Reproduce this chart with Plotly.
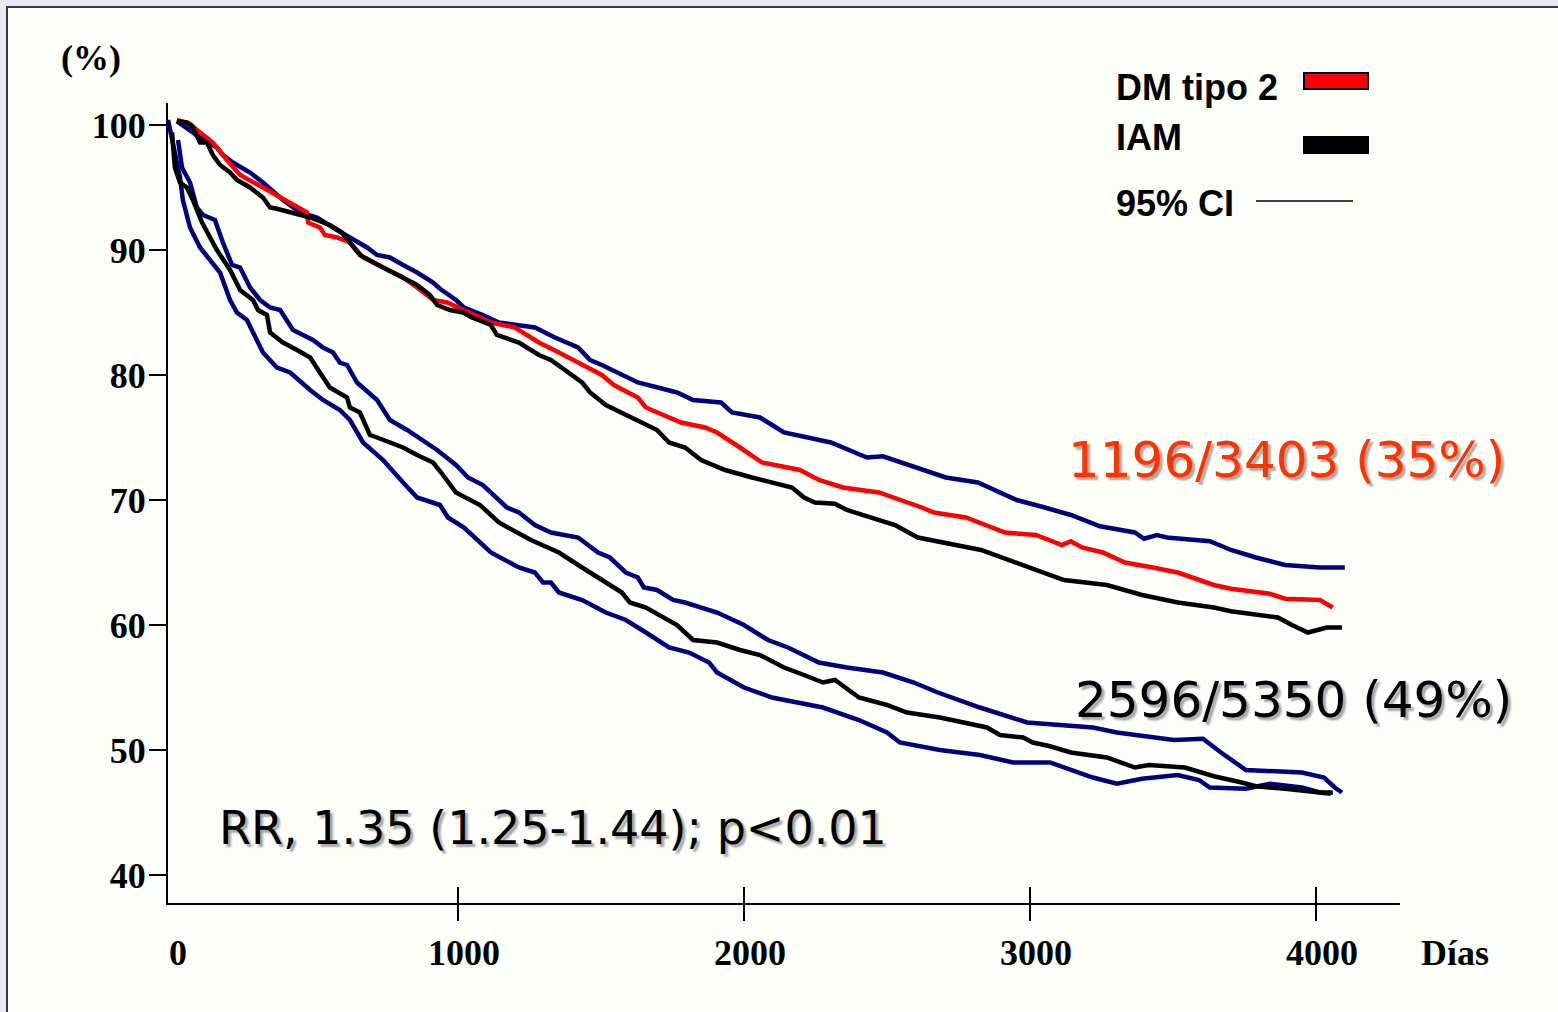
import plotly.graph_objects as go

# ---------------- data (days, % survival) ----------------
dm_x = [17, 63, 87, 143, 192, 238, 318, 413, 472, 476, 517, 535, 577, 622, 668, 738, 808, 857, 913, 962,
        1042, 1115, 1199, 1283, 1353, 1434, 1503, 1545, 1629, 1657, 1738, 1780, 1864, 1906, 1986, 2063,
        2196, 2262, 2346, 2472, 2622, 2664, 2776, 2843, 2913, 3021, 3112, 3143, 3182, 3255, 3332, 3430,
        3517, 3643, 3703, 3839, 3892, 4014, 4059]
dm_y = [100.4, 100.1, 99.6, 98.6, 97.2, 96.0, 95.0, 93.8, 93.0, 92.2, 91.8, 91.2, 91.0, 90.6, 89.4, 88.6,
        87.8, 87.0, 86.0, 85.8, 85.0, 84.2, 83.8, 82.6, 81.8, 80.8, 80.0, 79.2, 78.2, 77.4, 76.6, 76.2,
        75.8, 75.4, 74.2, 73.0, 72.4, 71.6, 71.0, 70.6, 69.4, 69.0, 68.6, 68.0, 67.4, 67.2, 66.4, 66.7,
        66.2, 65.8, 65.0, 64.6, 64.2, 63.2, 62.9, 62.5, 62.1, 62.0, 61.4]

dm_up_x = [17, 73, 98, 157, 178, 213, 273, 318, 388, 448, 507, 577, 622, 682, 717, 762, 808, 857, 913, 937,
           993, 1021, 1087, 1143, 1269, 1339, 1420, 1462, 1503, 1629, 1766, 1822, 1920, 1958, 2056, 2140,
           2304, 2430, 2486, 2580, 2706, 2818, 2954, 3052, 3143, 3245, 3367, 3399, 3444, 3479, 3629, 3703,
           3790, 3892, 4014, 4101]
dm_up_y = [100.3, 99.4, 99.0, 98.2, 97.6, 97.0, 96.2, 95.4, 94.0, 93.0, 92.6, 91.6, 91.0, 90.2, 89.6, 89.4,
           88.8, 88.2, 87.4, 86.9, 86.0, 85.4, 84.8, 84.2, 83.8, 83.0, 82.2, 81.2, 80.8, 79.4, 78.6, 78.0,
           77.8, 77.0, 76.6, 75.4, 74.6, 73.4, 73.5, 72.8, 71.8, 71.4, 70.0, 69.4, 68.8, 67.9, 67.4, 66.9,
           67.2, 67.0, 66.7, 66.0, 65.4, 64.8, 64.6, 64.6]

dm_lo_x = [17, 52, 73, 80, 98, 122, 143, 168, 203, 227, 273, 318, 343, 367, 423, 483, 552, 594, 622, 657,
           738, 808, 857, 902, 927, 972, 1017, 1049, 1115, 1136, 1213, 1283, 1325, 1434, 1462, 1517, 1629,
           1696, 1738, 1794, 1850, 1934, 2028, 2168, 2210, 2248, 2318, 2360, 2528, 2608, 2829, 2899, 3038,
           3119, 3269, 3392, 3517, 3643, 3703, 3867, 3916, 3972, 4038, 4091]
dm_lo_y = [100.3, 100.2, 99.8, 99.4, 98.6, 98.6, 97.6, 96.8, 96.2, 95.6, 95.0, 94.2, 93.4, 93.3, 93.0, 92.6,
           92.0, 91.4, 90.6, 89.6, 88.6, 87.8, 87.2, 86.4, 85.6, 85.2, 85.0, 84.6, 84.0, 83.2, 82.6, 81.6,
           81.2, 79.4, 78.6, 77.6, 76.4, 75.6, 74.6, 74.2, 73.2, 72.4, 71.8, 71.0, 70.2, 69.8, 69.7, 69.2,
           68.0, 67.0, 66.0, 65.4, 64.2, 63.6, 63.2, 62.4, 61.8, 61.4, 61.1, 60.6, 60.0, 59.4, 59.8, 59.8]

iam_x = [0, 10, 28, 52, 73, 105, 157, 203, 238, 283, 301, 332, 343, 388, 437, 483, 517, 552, 612, 622, 657,
         692, 717, 808, 857, 913, 941, 993, 1077, 1143, 1255, 1353, 1434, 1490, 1573, 1601, 1657, 1766, 1822,
         1906, 1986, 2056, 2140, 2210, 2276, 2318, 2402, 2500, 2570, 2685, 2850, 2895, 2976, 3010, 3070,
         3143, 3269, 3367, 3416, 3542, 3643, 3741, 3790, 3892, 4014, 4059]
iam_y = [99.4, 96.6, 95.4, 95.0, 94.0, 92.2, 90.0, 88.4, 86.8, 86.0, 85.2, 84.8, 83.4, 82.6, 82.0, 81.4,
         80.2, 79.0, 78.2, 77.4, 77.0, 75.2, 75.0, 74.2, 73.6, 73.0, 72.2, 70.6, 69.6, 68.2, 66.8, 65.8,
         64.6, 63.8, 62.6, 61.8, 61.4, 60.0, 58.8, 58.6, 58.0, 57.6, 56.6, 56.0, 55.4, 55.6, 54.2, 53.6,
         53.0, 52.6, 51.8, 51.2, 51.0, 50.6, 50.3, 49.8, 49.4, 48.6, 48.8, 48.6, 47.9, 47.4, 47.1, 46.9,
         46.6, 46.6]

iam_up_x = [21, 35, 63, 87, 108, 150, 178, 210, 238, 273, 308, 343, 378, 423, 493, 528, 563, 587, 612, 647,
            717, 762, 822, 878, 927, 993, 1035, 1087, 1171, 1213, 1269, 1325, 1420, 1490, 1531, 1587, 1629,
            1650, 1696, 1752, 1794, 1906, 2000, 2084, 2154, 2262, 2360, 2486, 2594, 2678, 2825, 2990, 3220,
            3304, 3503, 3605, 3668, 3755, 3951, 4028, 4066, 4091]
iam_up_y = [98.8, 96.6, 95.4, 93.4, 92.8, 92.4, 90.6, 88.8, 88.6, 87.0, 86.0, 85.4, 85.2, 83.6, 82.8, 82.2,
            81.8, 81.0, 80.8, 79.4, 78.0, 76.4, 75.6, 74.8, 74.0, 72.8, 71.8, 71.2, 69.4, 69.0, 68.0, 67.4,
            67.0, 65.8, 65.4, 64.2, 63.8, 63.0, 62.8, 62.0, 61.8, 61.0, 60.0, 58.8, 58.2, 57.0, 56.6, 56.2,
            55.4, 54.6, 53.4, 52.2, 51.8, 51.4, 50.8, 50.9, 49.8, 48.4, 48.2, 47.8, 47.0, 46.6]

iam_lo_x = [-14, 3, 28, 38, 63, 98, 133, 168, 203, 227, 262, 297, 318, 367, 413, 483, 528, 587, 622, 668,
            738, 808, 857, 937, 965, 1021, 1115, 1213, 1269, 1297, 1325, 1353, 1434, 1517, 1587, 1657, 1738,
            1808, 1878, 1906, 2000, 2098, 2276, 2402, 2500, 2545, 2685, 2825, 2941, 3070, 3220, 3304, 3392,
            3517, 3591, 3629, 3755, 3839, 3951, 4014, 4052]
iam_lo_y = [100.4, 98.6, 95.8, 94.0, 91.8, 90.2, 89.2, 88.2, 86.0, 85.0, 84.4, 82.8, 81.8, 80.6, 80.2, 78.8,
            78.0, 77.2, 76.4, 74.6, 73.2, 71.4, 70.2, 69.6, 68.6, 67.8, 65.8, 64.6, 64.2, 63.4, 63.4, 62.6,
            62.0, 61.0, 60.4, 59.4, 58.2, 57.8, 57.0, 56.2, 55.0, 54.2, 53.4, 52.4, 51.4, 50.6, 50.0, 49.6,
            49.0, 49.0, 47.8, 47.3, 47.7, 48.0, 47.6, 47.0, 46.9, 47.3, 47.0, 46.6, 46.5]

y_ticks = [40, 50, 60, 70, 80, 90, 100]
x_ticks = [0, 1000, 2000, 3000, 4000]
x_major = [1000, 2000, 3000, 4000]

legend_labels = ["DM tipo 2", "IAM", "95% CI"]
label_dm = "1196/3403 (35%)"
label_iam = "2596/5350 (49%)"
label_rr = "RR, 1.35 (1.25-1.44); p<0.01"

# ---------------- layout geometry ----------------
W, H = 1558, 1012
L, R, T, B = 168, 158, 103, 109
PW, PH = W - L - R, H - T - B


def fx(px):
    return (px - L) / PW


def fy(py):
    return (H - B - py) / PH


NAVY = "#00007f"
RED = "#ff0000"
BLACK = "#000000"

fig = go.Figure()
for xs, ys, col in [(dm_up_x, dm_up_y, NAVY), (iam_up_x, iam_up_y, NAVY), (iam_lo_x, iam_lo_y, NAVY),
                    (dm_x, dm_y, RED), (dm_lo_x, dm_lo_y, BLACK), (iam_x, iam_y, BLACK)]:
    fig.add_trace(go.Scatter(x=xs, y=ys, mode="lines", line=dict(color=col, width=4.5),
                             showlegend=False, hoverinfo="skip"))

# helper traces so overlay axes render
for ax in ["x2", "x3"]:
    fig.add_trace(go.Scatter(x=[None], y=[None], xaxis=ax, yaxis="y", showlegend=False,
                             hoverinfo="skip", mode="lines"))

XR = [-14, 4294]
YR = [37.76, 101.76]
tickfont = dict(family="Liberation Serif", size=36, color="black", weight="bold")

fig.update_layout(
    width=W, height=H,
    margin=dict(l=L, r=R, t=T, b=B, pad=0),
    paper_bgcolor="#e9ecf5",
    plot_bgcolor="rgba(0,0,0,0)",
    xaxis=dict(range=XR, showgrid=False, zeroline=False, showline=True, linecolor="black", linewidth=2,
               tickvals=x_ticks, ticktext=[str(v) for v in x_ticks], ticks="", tickfont=tickfont,
               ticklabelstandoff=17, ticklabelshift=6),
    xaxis2=dict(range=XR, overlaying="x", anchor="y", side="bottom", showgrid=False, zeroline=False,
                showline=False, tickvals=x_major, ticks="outside", ticklen=17, tickwidth=2,
                tickcolor="black", showticklabels=False),
    xaxis3=dict(range=XR, overlaying="x", anchor="y", side="bottom", showgrid=False, zeroline=False,
                showline=False, tickvals=x_major, ticks="inside", ticklen=16, tickwidth=2,
                tickcolor="black", showticklabels=False),
    yaxis=dict(range=YR, showgrid=False, zeroline=False, showline=True, linecolor="black", linewidth=2,
               tickvals=y_ticks, ticks="outside", ticklen=17, tickwidth=2, tickcolor="black",
               tickfont=tickfont, ticklabelstandoff=-4),
)

# slide panel with border
fig.add_shape(type="rect", xref="paper", yref="paper", x0=fx(7), x1=fx(W + 20), y0=fy(H + 20), y1=fy(7),
              fillcolor="#fcfef8", line=dict(color="#3a3a3a", width=2), layer="below")

# legend
legfont = dict(family="Liberation Sans", size=36, color="black", weight="bold")
for txt, py in zip(legend_labels, [88, 138, 203]):
    fig.add_annotation(x=fx(1114), y=fy(py), xref="paper", yref="paper", text=txt, showarrow=False,
                       xanchor="left", yanchor="middle", font=legfont)
fig.add_shape(type="rect", xref="paper", yref="paper", x0=fx(1304), x1=fx(1368), y0=fy(89), y1=fy(73),
              fillcolor=RED, line=dict(color="black", width=2))
fig.add_shape(type="rect", xref="paper", yref="paper", x0=fx(1303), x1=fx(1369), y0=fy(154), y1=fy(136),
              fillcolor=BLACK, line=dict(color="black", width=0))
fig.add_shape(type="line", xref="paper", yref="paper", x0=fx(1256), x1=fx(1353), y0=fy(201), y1=fy(201),
              line=dict(color="black", width=1.5))

# axis titles
serif_b = dict(family="Liberation Serif", size=36, color="black", weight="bold")
fig.add_annotation(x=fx(91), y=fy(58), xref="paper", yref="paper", text="(%)", showarrow=False,
                   xanchor="center", yanchor="middle", font=serif_b)
fig.add_annotation(x=fx(1455), y=fy(953), xref="paper", yref="paper", text="Días", showarrow=False,
                   xanchor="center", yanchor="middle", font=serif_b)

# data labels
shadow = "3px 3px 2px #a8a8a8"
fig.add_annotation(x=fx(1286), y=fy(460), xref="paper", yref="paper", text=label_dm, showarrow=False,
                   xanchor="center", yanchor="middle",
                   font=dict(family="DejaVu Sans", size=50, color="#ff3300", shadow=shadow))
fig.add_annotation(x=fx(1293), y=fy(700), xref="paper", yref="paper", text=label_iam, showarrow=False,
                   xanchor="center", yanchor="middle",
                   font=dict(family="DejaVu Sans", size=50, color="black", shadow=shadow))
fig.add_annotation(x=fx(553), y=fy(828), xref="paper", yref="paper", text=label_rr, showarrow=False,
                   xanchor="center", yanchor="middle",
                   font=dict(family="DejaVu Sans", size=46, color="black", shadow=shadow))

fig.write_html("out.html")
